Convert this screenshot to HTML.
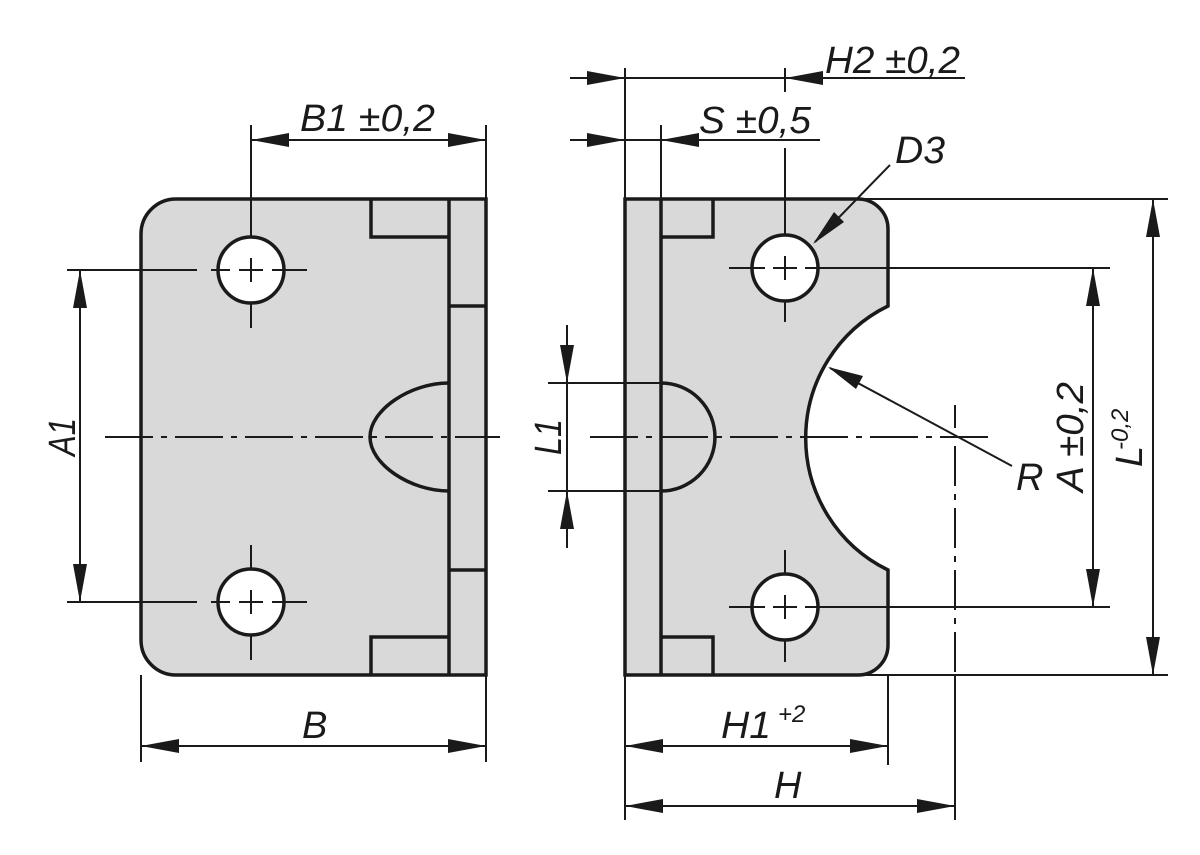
<!DOCTYPE html>
<html><head><meta charset="utf-8"><style>
html,body{margin:0;padding:0;background:#fff;}
svg{display:block;}
.t{font-family:"Liberation Sans",sans-serif;font-style:italic;font-size:38px;fill:#1a1a1a;}
.s{font-family:"Liberation Sans",sans-serif;font-style:italic;font-size:24px;fill:#1a1a1a;}
</style></head><body>
<svg width="1200" height="855" viewBox="0 0 1200 855" xmlns="http://www.w3.org/2000/svg">
<g stroke="#1a1a1a" fill="none" stroke-linecap="butt">
<!-- LEFT BODY -->
<path d="M176,199 H486 V675 H176 A35,35 0 0 1 141,640 V234 A35,35 0 0 1 176,199 Z" fill="#d9d9d9" stroke-width="3.5"/>
<path d="M449,383 C410,383 370,410 370,437 C370,464 410,491 449,491" stroke-width="3.5" fill="#d9d9d9"/>
<path d="M449,199 V675 M371,199 V237 H449 M371,675 V637 H449 M449,306 H486 M449,570 H486" stroke-width="3.5"/>
<circle cx="251" cy="270" r="33" fill="#fff" stroke-width="3.5"/>
<circle cx="251" cy="602" r="33" fill="#fff" stroke-width="3.5"/>
<path d="M251,125 V237 M251,258 V282 M251,303 V328 M239,270 H263 M211,270 H230 M272,270 H307 M67,270 H197" stroke-width="2"/>
<path d="M251,545 V570 M251,590 V614 M251,634 V660 M239,602 H263 M211,602 H230 M272,602 H307 M67,602 H197" stroke-width="2"/>
<path d="M105,437 H500" stroke-width="2" stroke-dasharray="48,8,6,8"/>
<path d="M486,125 V199 M251,140 H486" stroke-width="2"/>
<path d="M80,270 V602" stroke-width="2"/>
<path d="M141,675 V762 M486,675 V762 M141,746 H486" stroke-width="2"/>

<!-- RIGHT BODY -->
<path d="M625,199 H858 A30,30 0 0 1 888,229 V306 A147,147 0 0 0 888,570 V645 A30,30 0 0 1 858,675 H625 Z" fill="#d9d9d9" stroke-width="3.5"/>
<path d="M661,199 V675 M661,237 H713 V199 M661,637 H713 V675" stroke-width="3.5"/>
<path d="M661,383 A54,54 0 0 1 661,491" stroke-width="3.5"/>
<circle cx="785" cy="268" r="33" fill="#fff" stroke-width="3.5"/>
<circle cx="785" cy="607" r="33" fill="#fff" stroke-width="3.5"/>
<path d="M785,148 V236 M785,256 V280 M785,300 V322 M773,268 H797 M729,268 H765 M805,268 H1110" stroke-width="2"/>
<path d="M785,550 V575 M785,595 V619 M785,639 V662 M773,607 H797 M729,607 H765 M805,607 H1110" stroke-width="2"/>
<path d="M590,437 H990" stroke-width="2" stroke-dasharray="48,8,6,8"/>
<path d="M955,405 V428 M955,446 V675" stroke-width="2" stroke-dasharray="40,8,6,8"/>
<path d="M945,437 H965 M955,675 V820" stroke-width="2"/>
<path d="M625,68 V199 M661,125 V199 M785,68 V92 M570,78 H965 M570,140 H820" stroke-width="2"/>
<path d="M890,165 L815,242" stroke-width="2"/>
<path d="M1012,466 L830,368" stroke-width="2"/>
<path d="M548,383 H661 M548,491 H661 M567,325 V548" stroke-width="2"/>
<path d="M1093,268 V607 M860,199 H1168 M860,675 H1168 M1153,199 V675" stroke-width="2"/>
<path d="M625,675 V820 M888,675 V765 M625,746 H888 M625,806 H955" stroke-width="2"/>
</g>
<g fill="#1a1a1a">
<polygon points="251,140 289,133 289,147"/><polygon points="486,140 448,133 448,147"/>
<polygon points="80,270 73,308 87,308"/><polygon points="80,602 73,564 87,564"/>
<polygon points="141,746 179,739 179,753"/><polygon points="486,746 448,739 448,753"/>
<polygon points="625,78 587,71 587,85"/><polygon points="785,78 823,71 823,85"/>
<polygon points="625,140 587,133 587,147"/><polygon points="661,140 699,133 699,147"/>
<polygon points="567,383 560,345 574,345"/><polygon points="567,491 560,529 574,529"/>
<polygon points="1093,268 1086,306 1100,306"/><polygon points="1093,607 1086,569 1100,569"/>
<polygon points="1153,199 1146,237 1160,237"/><polygon points="1153,675 1146,637 1160,637"/>
<polygon points="625,746 663,739 663,753"/><polygon points="888,746 850,739 850,753"/>
<polygon points="625,806 663,799 663,813"/><polygon points="955,806 917,799 917,813"/>
<polygon points="813,244 834,212 844,222"/>
<polygon points="828,367 863,376 856,389"/>
</g>
<g>
<text class="t" x="300" y="131" textLength="135" lengthAdjust="spacingAndGlyphs">B1 ±0,2</text>
<text class="t" x="302" y="738">B</text>
<text class="t" transform="translate(75,437) rotate(-90)" text-anchor="middle" textLength="38" lengthAdjust="spacingAndGlyphs">A1</text>
<text class="t" x="825" y="73" textLength="135" lengthAdjust="spacingAndGlyphs">H2 ±0,2</text>
<text class="t" x="699" y="133" textLength="112" lengthAdjust="spacingAndGlyphs">S ±0,5</text>
<text class="t" x="895" y="163" textLength="50" lengthAdjust="spacingAndGlyphs">D3</text>
<text class="t" x="1016" y="490">R</text>
<text class="t" transform="translate(561,437) rotate(-90)" text-anchor="middle" textLength="36" lengthAdjust="spacingAndGlyphs">L1</text>
<text class="t" transform="translate(1083,437) rotate(-90)" text-anchor="middle" textLength="110" lengthAdjust="spacingAndGlyphs">A ±0,2</text>
<text class="t" transform="translate(1142,467) rotate(-90)">L</text>
<text class="s" transform="translate(1128,450) rotate(-90)">-0,2</text>
<text class="t" x="721" y="738" textLength="50" lengthAdjust="spacingAndGlyphs">H1</text>
<text class="s" x="778" y="722">+2</text>
<text class="t" x="774" y="798">H</text>
</g>
</svg>
</body></html>
